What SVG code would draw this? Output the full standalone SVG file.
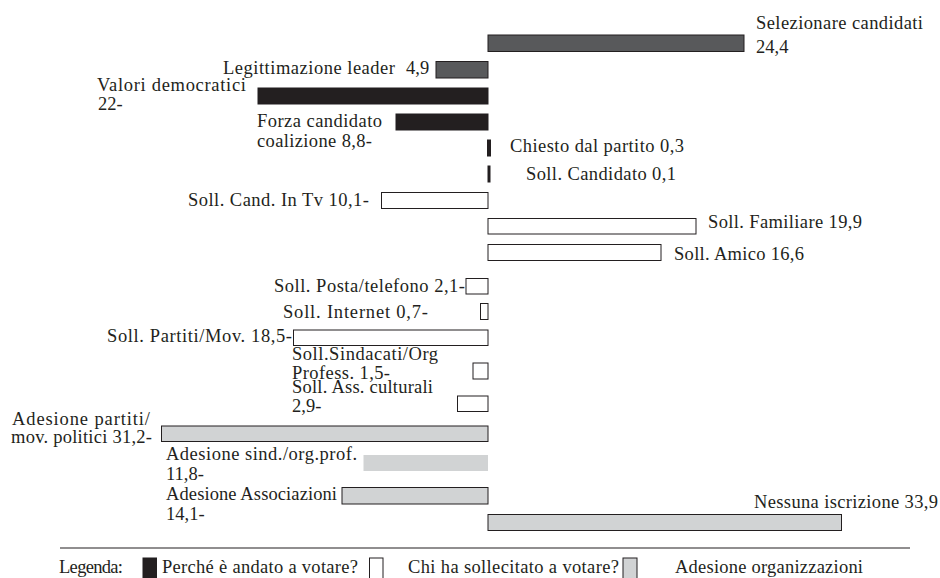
<svg xmlns="http://www.w3.org/2000/svg" width="940" height="578" viewBox="0 0 940 578">
<style>
text{font-family:"Liberation Serif","Times New Roman",serif;font-size:18.5px;fill:#231f20}
.dg{fill:#58595b;stroke:#231f20;stroke-width:1}
.bk{fill:#231f20;stroke:#231f20;stroke-width:1}
.wh{fill:#ffffff;stroke:#231f20;stroke-width:1}
.lg{fill:#d1d3d4;stroke:#231f20;stroke-width:1}
.lgn{fill:#d1d3d4}
</style>
<rect width="940" height="578" fill="#ffffff"/>
<g id="selezionare">
<rect class="dg" x="488" y="35" width="256" height="16.5"/>
<text x="756" y="29" textLength="167">Selezionare candidati</text>
<text x="756" y="53">24,4</text>
</g>
<g id="legittimazione">
<rect class="dg" x="436" y="61.5" width="52" height="16.5"/>
<text x="223" y="74"><tspan textLength="172">Legittimazione leader</tspan><tspan x="406">4,9</tspan></text>
</g>
<g id="valori">
<rect class="bk" x="258" y="88" width="230" height="16"/>
<text x="97" y="90.5" textLength="149">Valori democratici</text>
<text x="98" y="110">22-</text>
</g>
<g id="forza">
<rect class="bk" x="396" y="114" width="92" height="16"/>
<text x="257" y="126.5" textLength="125">Forza candidato</text>
<text x="257" y="147" textLength="115">coalizione 8,8-</text>
</g>
<g id="chiesto">
<rect class="bk" x="487.5" y="140" width="3" height="16"/>
<text x="510" y="151.5" textLength="174">Chiesto dal partito 0,3</text>
</g>
<g id="sollcandidato">
<rect class="bk" x="488" y="166" width="2" height="16"/>
<text x="526" y="180" textLength="150">Soll. Candidato 0,1</text>
</g>
<g id="solltv">
<rect class="wh" x="381.5" y="192.5" width="106.5" height="16"/>
<text x="188" y="205.5" textLength="181">Soll. Cand. In Tv 10,1-</text>
</g>
<g id="familiare">
<rect class="wh" x="488" y="218.5" width="208" height="15.5"/>
<text x="708" y="227.5" textLength="154">Soll. Familiare 19,9</text>
</g>
<g id="amico">
<rect class="wh" x="488" y="244.5" width="173" height="16"/>
<text x="674" y="260" textLength="130">Soll. Amico 16,6</text>
</g>
<g id="posta">
<rect class="wh" x="466" y="278.5" width="22" height="15.5"/>
<text x="274" y="291.5" textLength="191">Soll. Posta/telefono 2,1-</text>
</g>
<g id="internet">
<rect class="wh" x="480.5" y="303.5" width="7.5" height="16"/>
<text x="283" y="318" textLength="145">Soll. Internet  0,7-</text>
</g>
<g id="partiti">
<rect class="wh" x="293.5" y="330" width="194.5" height="15.5"/>
<text x="107" y="341.5" textLength="185">Soll. Partiti/Mov. 18,5-</text>
</g>
<g id="sindacati">
<rect class="wh" x="473" y="363" width="15" height="16"/>
<text x="292" y="360" textLength="146">Soll.Sindacati/Org</text>
<text x="292" y="379" textLength="98">Profess. 1,5-</text>
</g>
<g id="culturali">
<rect class="wh" x="457.5" y="396" width="30.5" height="15.5"/>
<text x="292" y="393" textLength="141">Soll. Ass. culturali</text>
<text x="292" y="412">2,9-</text>
</g>
<g id="adpartiti">
<rect class="lg" x="161.5" y="426" width="326.5" height="15.5"/>
<text x="12" y="424.5" textLength="138">Adesione partiti/</text>
<text x="11" y="443" textLength="141">mov. politici 31,2-</text>
</g>
<g id="adsindacati">
<rect class="lgn" x="363.5" y="455" width="124.5" height="16"/>
<text x="166" y="460" textLength="191">Adesione sind./org.prof.</text>
<text x="166" y="480">11,8-</text>
</g>
<g id="adassociazioni">
<rect class="lg" x="342" y="487.5" width="146" height="16.5"/>
<text x="166" y="499.5" textLength="171">Adesione Associazioni</text>
<text x="166" y="520">14,1-</text>
</g>
<g id="nessuna">
<rect class="lg" x="488" y="514.5" width="353.5" height="16"/>
<text x="754" y="508" textLength="184">Nessuna iscrizione 33,9</text>
</g>
<g id="legenda">
<line x1="60" y1="548" x2="910" y2="548" stroke="#231f20" stroke-width="1.2"/>
<text x="59" y="573" textLength="64">Legenda:</text>
<rect class="bk" x="143" y="558" width="13.5" height="21"/>
<text x="162" y="573" textLength="196">Perché è andato a votare?</text>
<rect class="wh" x="369.5" y="558" width="13.5" height="21"/>
<text x="408" y="573" textLength="211">Chi ha sollecitato a votare?</text>
<rect class="lg" x="623" y="558" width="14" height="21"/>
<text x="675" y="573" textLength="188">Adesione organizzazioni</text>
</g>
</svg>
